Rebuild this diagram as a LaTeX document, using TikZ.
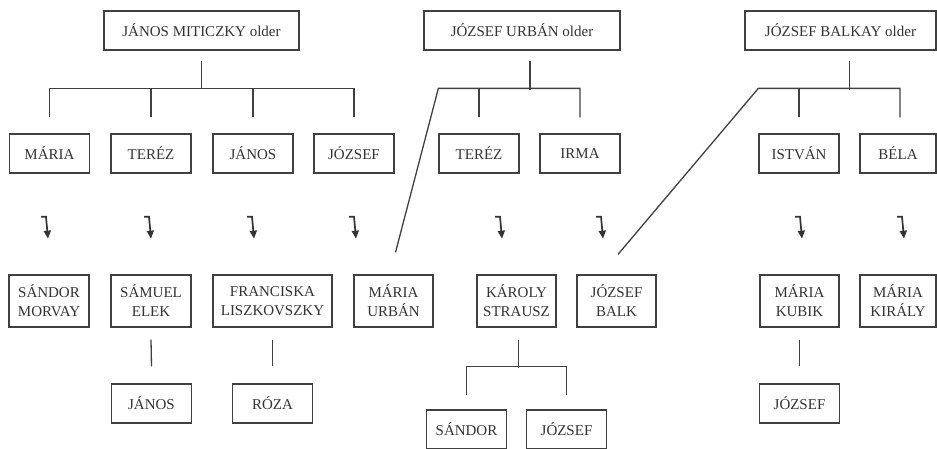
\documentclass[tikz,border=0pt]{standalone}
\usepackage{fontspec}
\setmainfont{Liberation Serif}
\usetikzlibrary{arrows.meta}
\tikzset{
    person/.style={draw=black!75, line width=1.3pt, text=black!80, inner sep=0pt, align=center,
        font=\fontsize{15}{19}\selectfont, minimum width=80pt, minimum height=39pt},
    couple/.style={person, minimum height=52pt},
    elder/.style={person, minimum width=195pt},
    link/.style={draw=black!75, line width=1.3pt},
    turn/.style={-{Triangle[width=7pt,length=8pt]}, line width=1.7pt, black!80}
}

\begin{document}
\begin{tikzpicture}[x=1pt, y=-1pt]
  \useasboundingbox (0,0) rectangle (937,448);

  % elders
  \node[elder] (miticzky) at (201.5,30.5) {JÁNOS MITICZKY older};
  \node[elder, minimum width=196pt] (urban) at (522,30.5) {JÓZSEF URBÁN older};
  \node[elder, minimum width=191pt] (balkay) at (840.5,30.5) {JÓZSEF BALKAY older};

  % children
  \node[person] (maria) at (49.5,153.5) {MÁRIA};
  \node[person] (tereza) at (151,153.5) {TERÉZ};
  \node[person] (janos) at (253,153.5) {JÁNOS};
  \node[person] (jozsef) at (354,153.5) {JÓZSEF};
  \node[person] (terezb) at (479,153.5) {TERÉZ};
  \node[person] (irma) at (580,153.5) {IRMA};
  \node[person] (istvan) at (799,153.5) {ISTVÁN};
  \node[person, minimum width=76pt] (bela) at (898,153.5) {BÉLA};

  % spouses
  \node[couple] (morvay) at (49,301) {SÁNDOR\\MORVAY};
  \node[couple] (elek) at (151,301) {SÁMUEL\\ELEK};
  \node[couple, minimum width=119pt] (franciska) at (272.5,301) {FRANCISKA\\LISZKOVSZKY};
  \node[couple, minimum width=79pt] (mariau) at (393.5,301) {MÁRIA\\URBÁN};
  \node[couple, minimum width=79pt] (karoly) at (516.5,301) {KÁROLY\\STRAUSZ};
  \node[couple, minimum width=79pt] (balk) at (616.5,301) {JÓZSEF\\BALK};
  \node[couple, minimum width=79pt] (kubik) at (799.5,301) {MÁRIA\\KUBIK};
  \node[couple, minimum width=76pt] (kiraly) at (898,301) {MÁRIA\\KIRÁLY};

  % grandchildren
  \node[person] (janosb) at (151.5,403.5) {JÁNOS};
  \node[person] (roza) at (272.5,403.5) {RÓZA};
  \node[person] (sandor) at (466.5,429.5) {SÁNDOR};
  \node[person] (jozsefb) at (566.5,429.5) {JÓZSEF};
  \node[person] (jozsefc) at (799.5,403.5) {JÓZSEF};

  % Miticzky family
  \draw[link] ([yshift=-10pt]miticzky.south) -- ([yshift=45pt]janos.north -| miticzky.south);
  \draw[link] ([yshift=16pt]maria.north) |- ([yshift=45pt]jozsef.north) -- ([yshift=16pt]jozsef.north);
  \foreach \c in {tereza, janos}
    \draw[link] ([yshift=16pt]\c.north) -- ([yshift=45pt]\c.north);

  % Urban family
  \draw[link] ([xshift=8pt,yshift=-10pt]urban.south) -- ([xshift=8pt,yshift=-39pt]urban.south);
  \draw[link] ([xshift=2pt,yshift=22pt]mariau.north) -- ([yshift=45pt]terezb.north west) -| ([yshift=16pt]irma.north);
  \draw[link] ([yshift=16pt]terezb.north) -- ([yshift=45pt]terezb.north);

  % Balkay family
  \draw[link] ([xshift=9pt,yshift=-10pt]balkay.south) -- ([xshift=9pt,yshift=-39pt]balkay.south);
  \draw[link] ([xshift=1.5pt,yshift=20pt]balk.north) -- ([yshift=45pt]istvan.north west) -| ([xshift=2pt,yshift=16pt]bela.north);
  \draw[link] ([yshift=16pt]istvan.north) -- ([yshift=45pt]istvan.north);

  % marriages
  \foreach \p/\dx in {maria/-3.5, tereza/-2, janos/-1, jozsef/0, terezb/21, irma/21, istvan/1, bela/4}
    \draw[turn] ([xshift={\dx pt-5pt}, yshift=-43pt]\p.south) -- ++(5pt,0) -- ++(2pt,-22pt);

  % next generation
  \draw[link] ([yshift=-12pt]elek.south) -- ([yshift=17pt]janosb.north);
  \draw[link] ([yshift=-12pt]franciska.south) -- ([yshift=17pt]roza.north);
  \draw[link] ([yshift=-12pt]kubik.south) -- ([yshift=17pt]jozsefc.north);
  \draw[link] ([xshift=2pt,yshift=-12pt]karoly.south) -- ([xshift=2pt,yshift=-40pt]karoly.south);
  \draw[link] ([yshift=14pt]sandor.north) |- ([yshift=43pt]jozsefb.north) -- ([yshift=14pt]jozsefb.north);
\end{tikzpicture}
\end{document}
